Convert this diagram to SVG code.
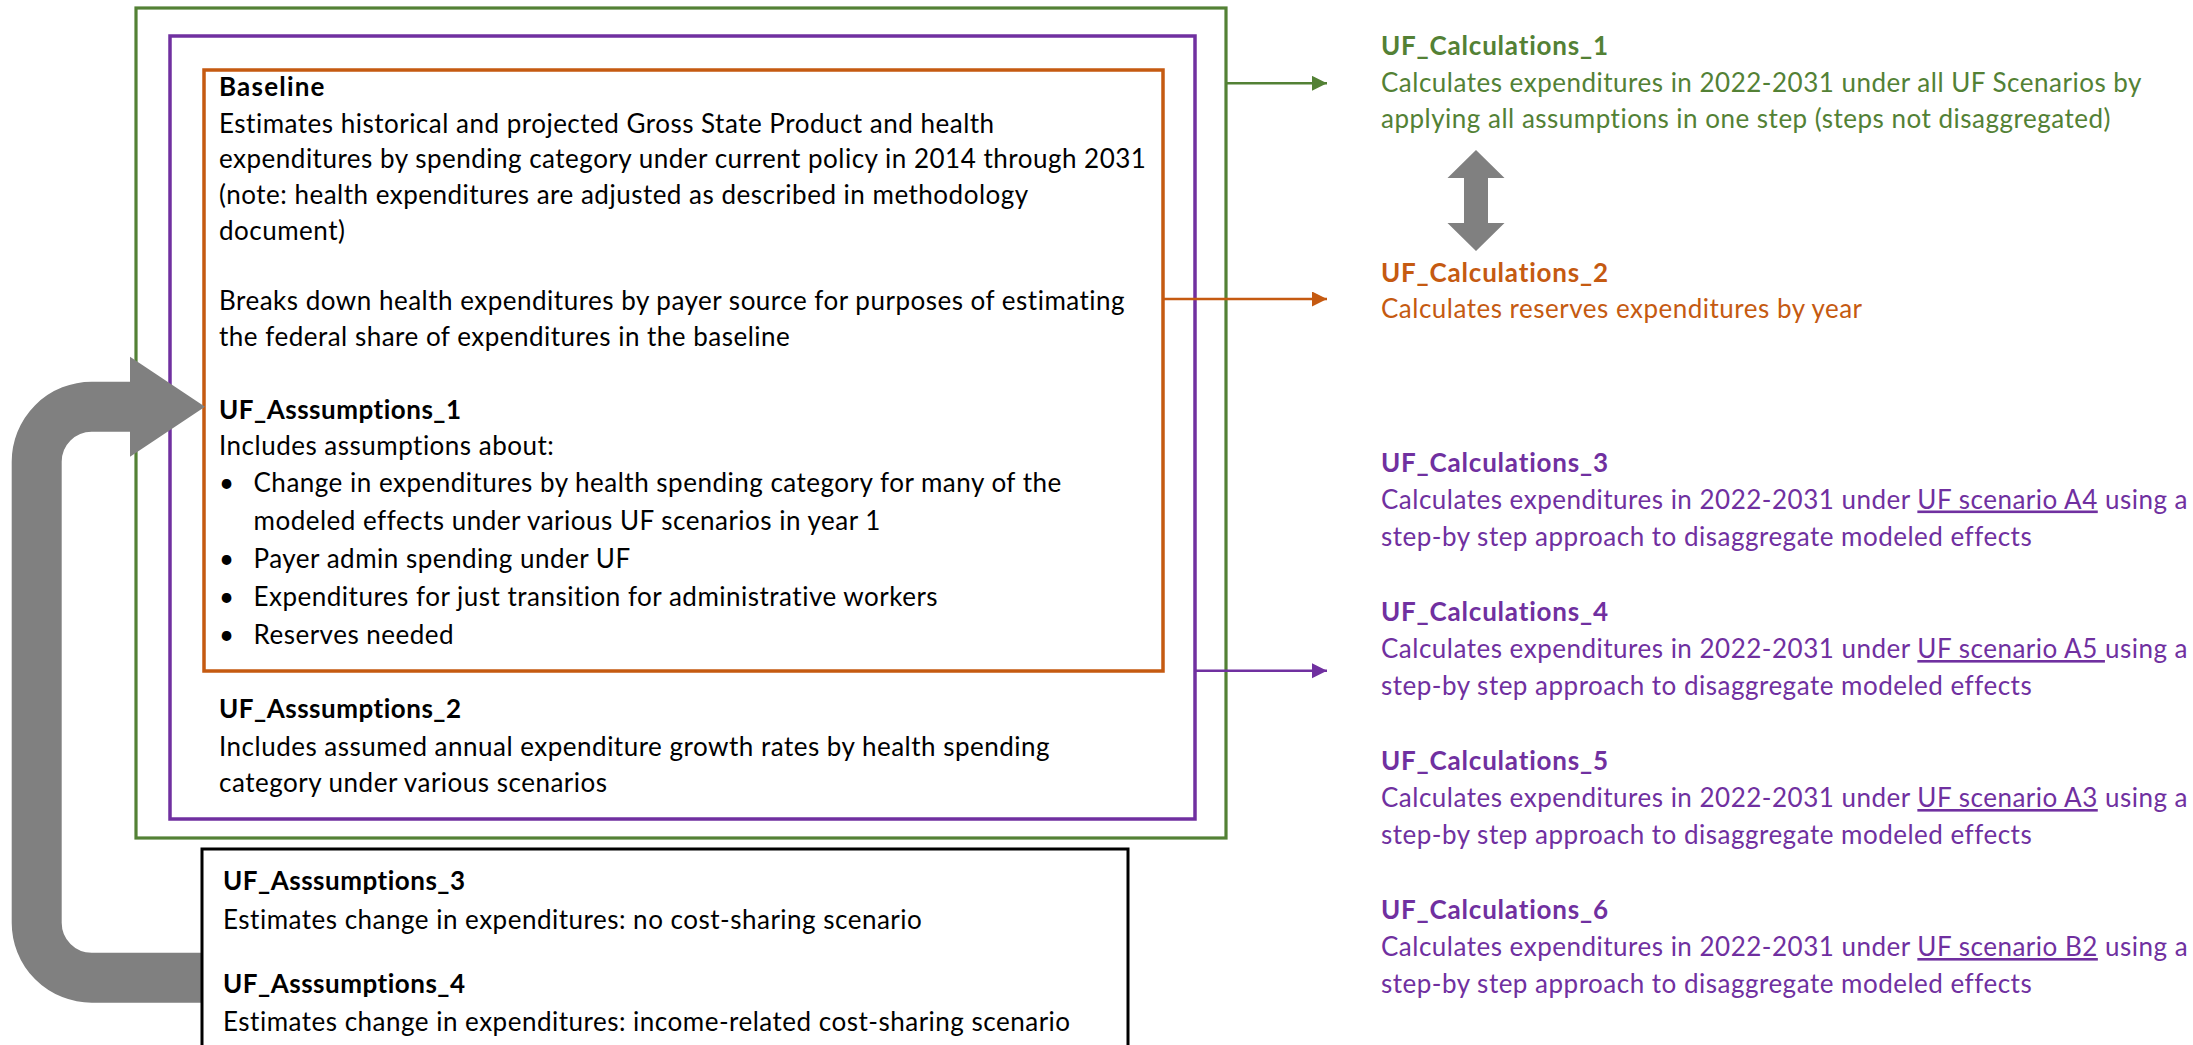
<svg xmlns="http://www.w3.org/2000/svg" width="2193" height="1045" viewBox="0 0 2193 1045">
<style>
text{font-family:Lato,"Liberation Sans",sans-serif;font-size:26px;letter-spacing:0.5px;fill:#000;font-variant-ligatures:none}
.b{font-weight:bold}
.hc{letter-spacing:0.8px}
.hb{letter-spacing:1.2px}
.g{fill:#538135}
.o{fill:#C55A11}
.p{fill:#7030A0}
.u{text-decoration:underline}
.box{fill:none}
</style>
<defs>
<marker id="ag" markerWidth="16" markerHeight="16" refX="15" refY="7.5" orient="auto" markerUnits="userSpaceOnUse"><path d="M0,0 L15,7.5 L0,15 Z" fill="#538135"/></marker>
<marker id="ao" markerWidth="16" markerHeight="16" refX="15" refY="7.5" orient="auto" markerUnits="userSpaceOnUse"><path d="M0,0 L15,7.5 L0,15 Z" fill="#C55A11"/></marker>
<marker id="ap" markerWidth="16" markerHeight="16" refX="15" refY="7.5" orient="auto" markerUnits="userSpaceOnUse"><path d="M0,0 L15,7.5 L0,15 Z" fill="#7030A0"/></marker>
</defs>
<rect width="2193" height="1045" fill="#fff"/>

<g id="uf_calculations_1_scope">
<rect class="box" x="136" y="8" width="1090" height="830" stroke="#538135" stroke-width="3.2"/>
</g>
<g id="uf_calculations_3_6_scope">
<rect class="box" x="170" y="36" width="1025" height="783" stroke="#7030A0" stroke-width="3.5"/>
</g>
<g id="uf_calculations_2_scope">
<rect class="box" x="204" y="70" width="959" height="601" stroke="#C55A11" stroke-width="3.5"/>
</g>

<g id="baseline">
<text class="b hb" x="219" y="96">Baseline</text>
<text x="219" y="132.5">Estimates historical and projected Gross State Product and health</text>
<text x="219" y="168">expenditures by spending category under current policy in 2014 through 2031</text>
<text x="219" y="204">(note: health expenditures are adjusted as described in methodology</text>
<text x="219" y="240">document)</text>
<text x="219" y="310">Breaks down health expenditures by payer source for purposes of estimating</text>
<text x="219" y="346">the federal share of expenditures in the baseline</text>
</g>

<g id="uf_assumptions_1">
<text class="b" x="219" y="419">UF_Asssumptions_1</text>
<text x="219" y="455">Includes assumptions about:</text>
<text x="219" y="492">•</text><text x="253.5" y="492">Change in expenditures by health spending category for many of the</text>
<text x="253.5" y="529.5">modeled effects under various UF scenarios in year 1</text>
<text x="219" y="567.5">•</text><text x="253.5" y="567.5">Payer admin spending under UF</text>
<text x="219" y="605.5">•</text><text x="253.5" y="605.5">Expenditures for just transition for administrative workers</text>
<text x="219" y="643.5">•</text><text x="253.5" y="643.5">Reserves needed</text>
</g>

<g id="uf_assumptions_2">
<text class="b" x="219" y="718">UF_Asssumptions_2</text>
<text x="219" y="756">Includes assumed annual expenditure growth rates by health spending</text>
<text x="219" y="792">category under various scenarios</text>
</g>

<g id="connectors">
<path d="M1226,83.3 H1327" stroke="#538135" stroke-width="2.6" fill="none" marker-end="url(#ag)"/>
<path d="M1163,299 H1327" stroke="#C55A11" stroke-width="2.6" fill="none" marker-end="url(#ao)"/>
<path d="M1195,670.7 H1327" stroke="#7030A0" stroke-width="2.6" fill="none" marker-end="url(#ap)"/>
<polygon points="1476,150 1504.5,178 1488,178 1488,223 1504.5,223 1476,251 1447.5,223 1464,223 1464,178 1447.5,178" fill="#808080"/>
<path d="M205,977.7 H91.7 A55,55 0 0 1 36.7,922.7 V461.7 A55,55 0 0 1 91.7,406.7 H131" stroke="#808080" stroke-width="50" fill="none"/>
<polygon points="130,356.7 205,406.7 130,456.7" fill="#808080"/>
</g>

<g id="uf_assumptions_3_4">
<rect x="202" y="849" width="926" height="230" fill="#fff" stroke="#000" stroke-width="3"/>
<text class="b" x="223" y="890">UF_Asssumptions_3</text>
<text x="223" y="928.5">Estimates change in expenditures: no cost-sharing scenario</text>
<text class="b" x="223" y="993">UF_Asssumptions_4</text>
<text x="223" y="1031">Estimates change in expenditures: income-related cost-sharing scenario</text>
</g>

<g id="uf_calculations_1">
<text class="b hc g" x="1381" y="55">UF_Calculations_1</text>
<text class="g" x="1381" y="91.7">Calculates expenditures in 2022-2031 under all UF Scenarios by</text>
<text class="g" x="1381" y="128.3">applying all assumptions in one step (steps not disaggregated)</text>
</g>
<g id="uf_calculations_2">
<text class="b hc o" x="1381" y="281.7">UF_Calculations_2</text>
<text class="o" x="1381" y="318.3">Calculates reserves expenditures by year</text>
</g>
<g id="uf_calculations_3">
<text class="b hc p" x="1381" y="471.5">UF_Calculations_3</text>
<text class="p" x="1381" y="508.5">Calculates expenditures in 2022-2031 under <tspan class="u">UF scenario A4</tspan> using a</text>
<text class="p" x="1381" y="545.5">step-by step approach to disaggregate modeled effects</text>
</g>
<g id="uf_calculations_4">
<text class="b hc p" x="1381" y="621">UF_Calculations_4</text>
<text class="p" x="1381" y="658">Calculates expenditures in 2022-2031 under <tspan class="u">UF scenario A5 </tspan>using a</text>
<text class="p" x="1381" y="695">step-by step approach to disaggregate modeled effects</text>
</g>
<g id="uf_calculations_5">
<text class="b hc p" x="1381" y="770">UF_Calculations_5</text>
<text class="p" x="1381" y="807">Calculates expenditures in 2022-2031 under <tspan class="u">UF scenario A3</tspan> using a</text>
<text class="p" x="1381" y="844">step-by step approach to disaggregate modeled effects</text>
</g>
<g id="uf_calculations_6">
<text class="b hc p" x="1381" y="919">UF_Calculations_6</text>
<text class="p" x="1381" y="956">Calculates expenditures in 2022-2031 under <tspan class="u">UF scenario B2</tspan> using a</text>
<text class="p" x="1381" y="993">step-by step approach to disaggregate modeled effects</text>
</g>
</svg>
